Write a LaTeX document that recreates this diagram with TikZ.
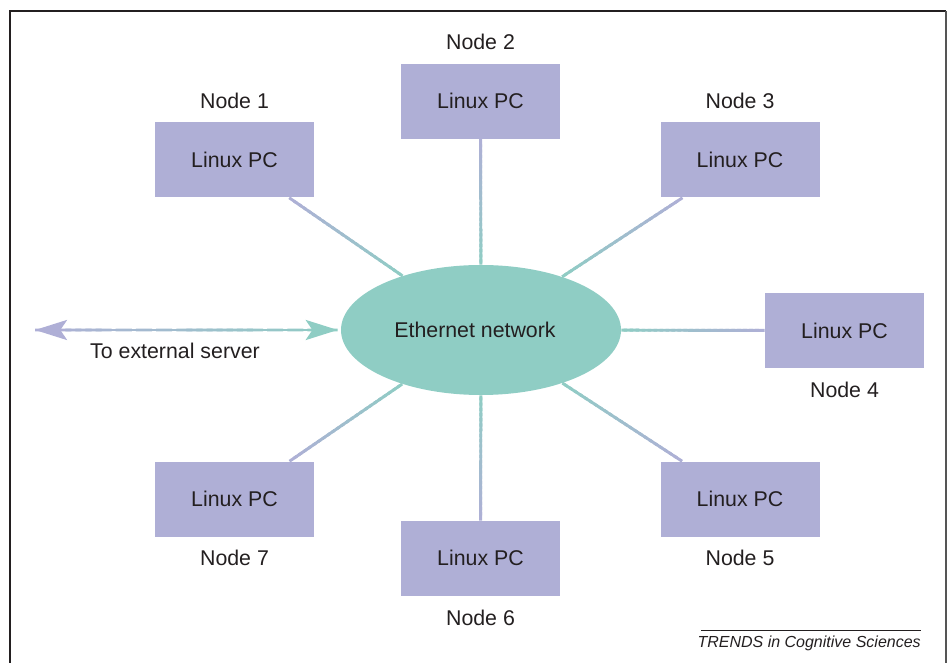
\documentclass[tikz,border=0pt]{standalone}
\usepackage{fontspec}
\setmainfont{Liberation Sans}
\usetikzlibrary{calc,arrows.meta,shapes.geometric}
\definecolor{ink}{HTML}{231F20}
\definecolor{pcfill}{HTML}{AFAFD6}
\definecolor{netfill}{HTML}{8FCDC4}
\definecolor{framegray}{HTML}{555555}

\begin{document}
\begin{tikzpicture}[x=0.75pt, y=-0.75pt, font=\fontsize{16}{19}\selectfont, text=ink,
  pcbox/.style={fill=pcfill, minimum width=119.25pt, minimum height=56.25pt, inner sep=0pt},
  tag/.style={inner sep=3.33pt},
  wire/.style={line width=2.2pt},
  srvtip/.tip={Stealth[length=24pt, width=15pt, inset=5pt]}]
  \useasboundingbox (0,0) rectangle (951,663);

  % frame, open at the bottom
  \draw[ink, line width=0.8pt] (10,663) -- (10,11) -- (946,11);
  \draw[framegray, line width=1.3pt] (946,11) -- (946,663);

  % the network in the middle
  \node[ellipse, fill=netfill, minimum width=210pt, minimum height=97.5pt, inner sep=0pt] (eth) at (481,330) {\hspace*{-9pt}Ethernet network};

  % the seven machines
  \node[pcbox] (pc1) at (234.5,160) {Linux PC};
  \node[pcbox] (pc2) at (480.5,101.3) {Linux PC};
  \node[pcbox] (pc3) at (740,160) {Linux PC};
  \node[pcbox] (pc4) at (844.5,330.5) {Linux PC};
  \node[pcbox] (pc5) at (740,499) {Linux PC};
  \node[pcbox] (pc6) at (480.5,558.3) {Linux PC};
  \node[pcbox] (pc7) at (234.5,499) {Linux PC};

  % their names
  \node[tag, above=6.6pt] (lbl1) at (pc1.north) {Node 1};
  \node[tag, above=6.6pt] (lbl2) at (pc2.north) {Node 2};
  \node[tag, above=6.6pt] (lbl3) at (pc3.north) {Node 3};
  \node[tag, below=6.6pt] (lbl4) at (pc4.south) {Node 4};
  \node[tag, below=6.6pt] (lbl5) at (pc5.south) {Node 5};
  \node[tag, below=6.6pt] (lbl6) at (pc6.south) {Node 6};
  \node[tag, below=6.6pt] (lbl7) at (pc7.south) {Node 7};

  % links, lavender at the PC fading to teal at the network
  \foreach \n in {1,...,7}{
    \path (pc\n) -- (eth) coordinate[pos=0] (a\n) coordinate[pos=1] (b\n);
    \foreach \k in {1,...,24}{
      \pgfmathsetmacro\mix{100-(\k-0.5)/24*100}
      \pgfmathsetmacro\upto{min(\k+0.6,24)/24}
      \draw[wire, pcfill!\mix!netfill] ($(a\n)!{(\k-1)/24}!(b\n)$) -- ($(a\n)!\upto!(b\n)$);
    }
  }

  % link to the outside
  \coordinate (ext) at (35,330);
  \coordinate (srv) at ($(eth.west)+(-3,0)$);
  \foreach \k in {1,...,30}{
    \pgfmathsetmacro\mix{100-(\k-0.5)/30*100}
    \pgfmathsetmacro\upto{min(\k+0.6,30)/30}
    \draw[wire, pcfill!\mix!netfill] ($(ext)!{(\k-1)/30}!(srv)$) -- ($(ext)!\upto!(srv)$);
  }
  \draw[wire, pcfill, {srvtip}-] (ext) -- ++(30,0);
  \draw[wire, netfill, -{srvtip}] ($(srv)+(-30,0)$) -- (srv);
  \node (extlbl) at (175,351) {To external server};

  % journal tag
  \coordinate (rulel) at (701,630);
  \coordinate (ruler) at (921,630);
  \draw[ink, line width=0.7pt] (rulel) -- (ruler);
  \node[font=\fontsize{12}{14}\selectfont\itshape, anchor=north east, inner sep=0pt] (journal) at ($(ruler)+(0,6)$) {TRENDS in Cognitive Sciences};
\end{tikzpicture}
\end{document}
